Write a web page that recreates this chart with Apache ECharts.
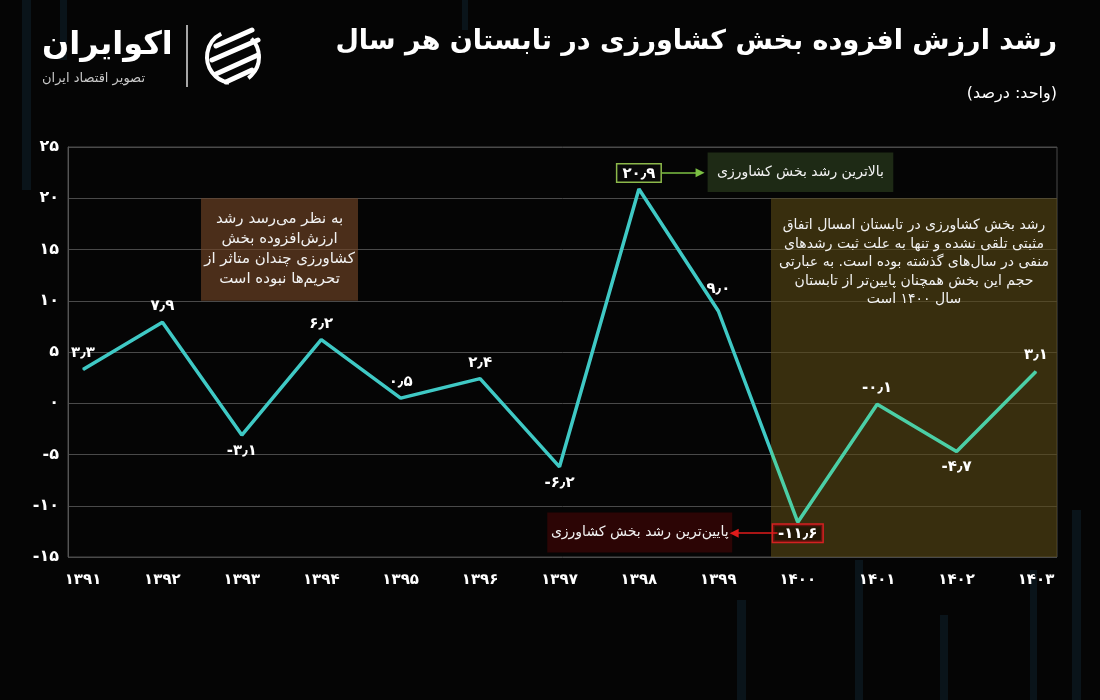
<!DOCTYPE html>
<html>
<head>
<meta charset="utf-8">
<script src="https://cdn.jsdelivr.net/npm/echarts@6/dist/echarts.min.js"></script>
<style>
html,body{margin:0;padding:0;background:#050505;}
#chart{width:1100px;height:700px;}
</style>
</head>
<body>
<div id="chart"></div>
<script>
// ---- data ----
const years = ['۱۳۹۱','۱۳۹۲','۱۳۹۳','۱۳۹۴','۱۳۹۵','۱۳۹۶','۱۳۹۷','۱۳۹۸','۱۳۹۹','۱۴۰۰','۱۴۰۱','۱۴۰۲','۱۴۰۳'];
const growth = [3.3, 7.9, -3.1, 6.2, 0.5, 2.4, -6.2, 20.9, 9.0, -11.6, -0.1, -4.7, 3.1];
const labelSide = ['top','top','bottom','top','top','top','bottom','top','top','bottom','top','bottom','top'];
const titleText = 'رشد ارزش افزوده بخش کشاورزی در تابستان هر سال';
const unitText = '\u200F(واحد: درصد)\u200F';
const noteBrown = 'به نظر می‌رسد رشد\nارزش‌افزوده بخش\nکشاورزی چندان متاثر از\nتحریم‌ها نبوده است';
const noteOlive = 'رشد بخش کشاورزی در تابستان امسال اتفاق\nمثبتی تلقی نشده و تنها به علت ثبت رشدهای\nمنفی در سال‌های گذشته بوده است. به عبارتی\nحجم این بخش همچنان پایین‌تر از تابستان\nسال ۱۴۰۰ است';
const noteMax = 'بالاترین رشد بخش کشاورزی';
const noteMin = 'پایین‌ترین رشد بخش کشاورزی';

const fa = s => String(s).replace(/\d/g, d => '۰۱۲۳۴۵۶۷۸۹'[d]).replace('.', '٫');
const FONT = 'DejaVu Sans';

// frame x-axis extent (index units) so points sit inset from frame edges
const PX = 79.417;
const fxMin = -15 / PX, fxMax = 12 + 21 / PX;

const lineData = growth.map((v, i) => {
  const item = { value: v, label: { position: labelSide[i] } };
  if (i === 8) item.label.distance = 14;
  if (v === Math.max(...growth)) {
    item.label = { position: 'top', distance: 7, borderColor: '#8cb84a', borderWidth: 1.5,
      padding: [2, 5, 0, 5], backgroundColor: '#080808' };
  }
  if (v === Math.min(...growth)) {
    item.label = { position: 'bottom', distance: 2, borderColor: '#d42121', borderWidth: 1.5,
      padding: [2, 5, 0, 5], backgroundColor: 'rgba(20,10,0,0.6)' };
  }
  return item;
});

const chart = echarts.init(document.getElementById('chart'), null, { renderer: 'canvas' });

const bars = [[22, 0, 9, 190], [60, 0, 7, 60], [737, 600, 9, 100], [855, 560, 8, 140], [940, 615, 8, 85], [1072, 510, 9, 190], [1030, 570, 7, 130], [462, 0, 6, 30]];

const cyan = '#3fc9c5', green = '#4bcfa6';
const split = 771 / 1100;

const option = {
  backgroundColor: '#050505',
  textStyle: { fontFamily: FONT },
  animation: false,
  grid: [
    { left: 83, right: 64, top: 147, bottom: 143, show: false },
    { left: 68, right: 43, top: 147, bottom: 143, show: true, borderColor: '#4a4a4a', borderWidth: 1, backgroundColor: 'transparent' }
  ],
  xAxis: [
    { gridIndex: 0, type: 'category', data: years, boundaryGap: false,
      axisLine: { show: false }, axisTick: { show: false }, splitLine: { show: false }, splitArea: { show: false },
      axisLabel: { color: '#fff', fontSize: 15, fontWeight: 'bold', margin: 16, fontFamily: FONT } },
    { gridIndex: 1, type: 'value', min: fxMin, max: fxMax, show: false, splitLine: { show: false } }
  ],
  yAxis: [
    { gridIndex: 0, type: 'value', min: -15, max: 25, interval: 5, show: false,
      axisLine: { show: false }, splitLine: { show: false }, axisLabel: { show: false } },
    { gridIndex: 1, type: 'value', min: -15, max: 25, interval: 5,
      axisLine: { show: true, onZero: false, lineStyle: { color: '#555' } }, axisTick: { show: false },
      axisLabel: { color: '#fff', fontSize: 16, fontWeight: 'bold', margin: 9, fontFamily: FONT, formatter: v => fa(v) },
      splitLine: { lineStyle: { color: '#4a4a4a', width: 1 } } }
  ],
  series: [
    {
      type: 'line', xAxisIndex: 1, yAxisIndex: 1, data: [], z: 1, silent: true,
      markArea: {
        silent: true,
        data: [
          [{ name: noteBrown, coord: [1.486, 20], itemStyle: { color: 'rgba(112,68,38,0.66)' },
             label: { position: 'inside', lineHeight: 20, fontSize: 15 } },
           { coord: [3.463, 10] }],
          [{ name: noteOlive, coord: [8.663, 20], itemStyle: { color: 'rgba(90,74,20,0.6)' },
             label: { position: 'insideTop', distance: 18, lineHeight: 18.5 } },
           { coord: [fxMax, -15] }],
          [{ name: noteMax, coord: [7.865, 24.46], itemStyle: { color: '#1e2a15' },
             label: { position: 'inside' } },
           { coord: [10.203, 20.61] }],
          [{ name: noteMin, coord: [5.846, -10.67], itemStyle: { color: '#2c0505' },
             label: { position: 'inside' } },
           { coord: [8.175, -14.57] }]
        ],
        label: { show: true, color: '#f2f2f2', fontSize: 14, fontFamily: FONT, align: 'center' }
      },
      markLine: {
        silent: true, symbol: ['none', 'triangle'], symbolSize: 9,
        label: { show: false },
        data: [
          [{ coord: [7.29, 22.5], lineStyle: { color: '#7cc043', width: 1.5, type: 'solid' }, itemStyle: { color: '#7cc043' } },
           { coord: [7.77, 22.5] }],
          [{ coord: [8.745, -12.68], lineStyle: { color: '#e01b1b', width: 1.5, type: 'solid' }, itemStyle: { color: '#e01b1b' } },
           { coord: [8.2, -12.68] }]
        ]
      }
    },
    {
      type: 'line', xAxisIndex: 0, yAxisIndex: 0, z: 3,
      data: lineData,
      symbol: 'circle', symbolSize: 1,
      itemStyle: { color: cyan },
      lineStyle: { width: 3.5, color: { type: 'linear', x: 0, y: 0, x2: 1100, y2: 0, global: true,
        colorStops: [{ offset: 0, color: cyan }, { offset: split, color: cyan }, { offset: split, color: green }, { offset: 1, color: green }] } },
      label: { show: true, color: '#fff', fontSize: 15, fontWeight: 'bold', fontFamily: FONT,
        distance: 8, formatter: p => fa(p.value.toFixed(1)) }
    }
  ],
  graphic: [
    ...bars.map(b => ({ type: 'rect', z: -10, silent: true, shape: { x: b[0], y: b[1], width: b[2], height: b[3] },
      style: { fill: 'rgba(20,50,65,0.35)' } })),
    { type: 'text', right: 43, top: 28, style: { text: titleText, fill: '#fff', font: 'bold 27px "DejaVu Sans"', textAlign: 'right' } },
    { type: 'text', right: 43, top: 86, style: { text: unitText, fill: '#fff', font: '16px "DejaVu Sans"', textAlign: 'right' } },
    // logo
    { type: 'text', left: 42, top: 30, style: { text: 'اکوایران', fill: '#fff', font: 'bold 32px "DejaVu Sans"' } },
    { type: 'text', left: 42, top: 72, style: { text: 'تصویر اقتصاد ایران', fill: '#c8c8c8', font: '13px "DejaVu Sans"' } },
    { type: 'line', shape: { x1: 187, y1: 25, x2: 187, y2: 87 }, style: { stroke: '#ddd', lineWidth: 1.5 } },
    { type: 'arc', shape: { cx: 233, cy: 57, r: 26, startAngle: Math.PI * 0.55, endAngle: Math.PI * 1.35 }, style: { stroke: '#fff', lineWidth: 4, fill: null } },
    { type: 'arc', shape: { cx: 233, cy: 57, r: 26, startAngle: -Math.PI * 0.25, endAngle: Math.PI * 0.3 }, style: { stroke: '#fff', lineWidth: 4, fill: null } },
    { type: 'polyline', shape: { points: [[216, 46], [252, 30]] }, style: { stroke: '#fff', lineWidth: 5, lineCap: 'round' } },
    { type: 'polyline', shape: { points: [[212, 60], [258, 40]] }, style: { stroke: '#fff', lineWidth: 5, lineCap: 'round' } },
    { type: 'polyline', shape: { points: [[216, 74], [258, 55]] }, style: { stroke: '#fff', lineWidth: 5, lineCap: 'round' } },
    { type: 'polyline', shape: { points: [[226, 82], [252, 70]] }, style: { stroke: '#fff', lineWidth: 5, lineCap: 'round' } }
  ]
};
chart.setOption(option);
</script>
</body>
</html>
